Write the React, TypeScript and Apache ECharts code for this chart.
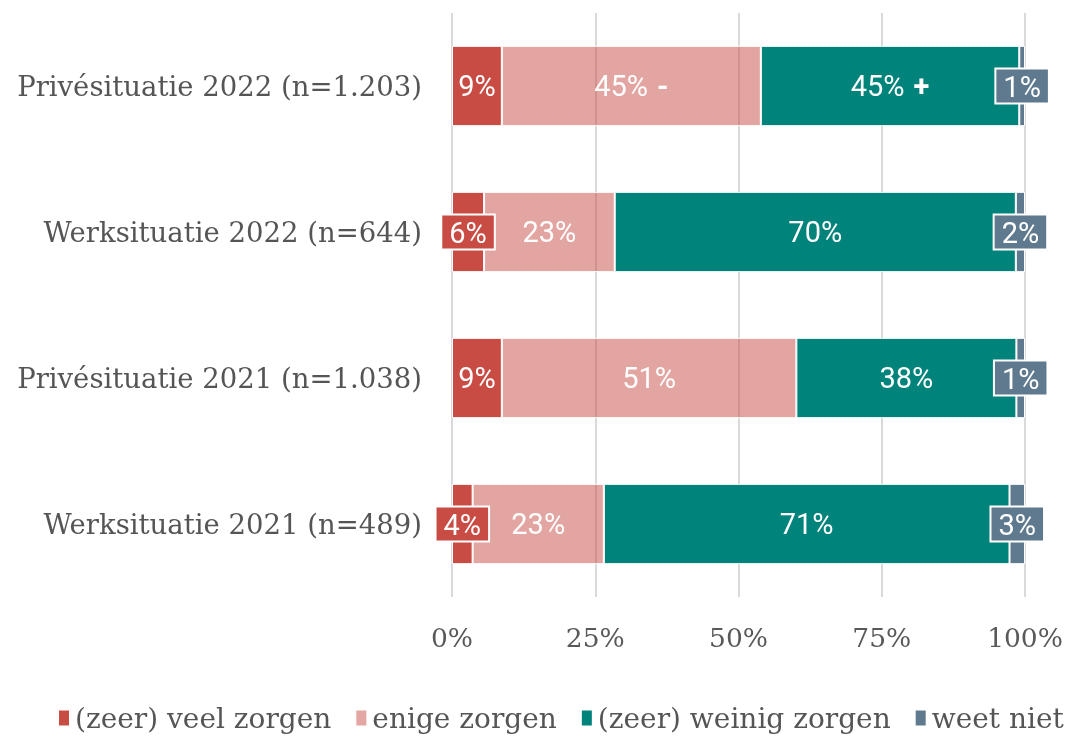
import React, { useEffect, useRef } from "react";
import * as echarts from "echarts";

const categories = [
  "Privésituatie 2022 (n=1.203)",
  "Werksituatie 2022 (n=644)",
  "Privésituatie 2021 (n=1.038)",
  "Werksituatie 2021 (n=489)",
];
const seriesNames = ["(zeer) veel zorgen", "enige zorgen", "(zeer) weinig zorgen", "weet niet"];
const veelZorgen = [8.7, 5.6, 8.7, 3.6];
const enigeZorgen = [45.2, 22.8, 51.4, 22.9];
const weinigZorgen = [45.1, 70.0, 38.4, 70.8];
const weetNiet = [1.0, 1.6, 1.5, 2.7];
const veelLabels = ["9%", "6%", "9%", "4%"];
const enigeLabels = ["45%", "23%", "51%", "23%"];
const weinigLabels = ["45%", "70%", "38%", "71%"];
const weetLabels = ["1%", "2%", "1%", "3%"];
const enigeMarks = ["-", "", "", ""];
const weinigMarks = ["+", "", "", ""];
const tickLabels = ["0%", "25%", "50%", "75%", "100%"];

const colors = ["#C84C44", "rgba(200,76,68,0.5)", "#00837A", "#5F7A8E"];
const boxColors = ["#C84C44", "#E3A6A2", "#00837A", "#5F7A8E"];

export default function App() {
  const ref = useRef<HTMLDivElement>(null);
  useEffect(() => {
    if (!ref.current) return;
    const chart = echarts.init(ref.current, undefined, { renderer: "svg" });
    const values = [veelZorgen, enigeZorgen, weinigZorgen, weetNiet];
    const labels = [veelLabels, enigeLabels, weinigLabels, weetLabels];
    const marks = [["", "", "", ""], enigeMarks, weinigMarks, ["", "", "", ""]];
    const series = values.map((vals, si) => ({
      name: seriesNames[si],
      type: "bar",
      stack: "total",
      barWidth: "55%",
      itemStyle: { color: colors[si], borderColor: "#fff", borderWidth: 1 },
      data: vals.map((v, i) => {
        const small = v < 7;
        return {
          value: v,
          label: {
            show: true,
            position: "inside",
            formatter: marks[si][i]
              ? `{v|${labels[si][i]}}{m|${marks[si][i]}}`
              : `{v|${labels[si][i]}}`,
            rich: {
              v: { fontFamily: "Roboto", fontSize: 29, color: "#fff" },
              m: {
                fontFamily: "Roboto",
                fontSize: 29,
                fontWeight: "bold",
                color: "#fff",
                padding: [0, 0, 0, 9],
              },
            },
            ...(small
              ? {
                  backgroundColor: boxColors[si],
                  borderColor: "#fff",
                  borderWidth: 2,
                  padding: [3, 7, 1, 7],
                }
              : {}),
          },
        };
      }),
    }));
    chart.setOption({
      animation: false,
      color: colors,
      grid: { left: 452, right: 47, top: 13, bottom: 139, containLabel: false },
      legend: {
        top: 699,
        left: 52,
        icon: "rect",
        itemWidth: 12,
        itemHeight: 17,
        itemGap: 23,
        textStyle: { fontFamily: "DejaVu Serif", fontSize: 28, color: "#555" },
        data: seriesNames.map((n, i) => ({ name: n, itemStyle: { color: boxColors[i] } })),
      },
      xAxis: {
        type: "value",
        min: 0,
        max: 100,
        interval: 25,
        axisLine: { show: false },
        axisTick: { show: false },
        splitLine: { lineStyle: { color: "#D9D9D9", width: 2 } },
        axisLabel: {
          margin: 27,
          fontFamily: "DejaVu Serif",
          fontSize: 26.5,
          color: "#595959",
          formatter: (v: number) => tickLabels[Math.round(v / 25)],
        },
      },
      yAxis: {
        type: "category",
        inverse: true,
        data: categories,
        axisLine: { show: false },
        axisTick: { show: false },
        axisLabel: {
          margin: 30,
          fontFamily: "DejaVu Serif",
          fontSize: 27.5,
          color: "#555",
        },
      },
      series,
    });
    return () => chart.dispose();
  }, []);
  return (
    <div
      ref={ref}
      style={{ position: "fixed", top: 0, left: 0, width: 1072, height: 736 }}
    />
  );
}
